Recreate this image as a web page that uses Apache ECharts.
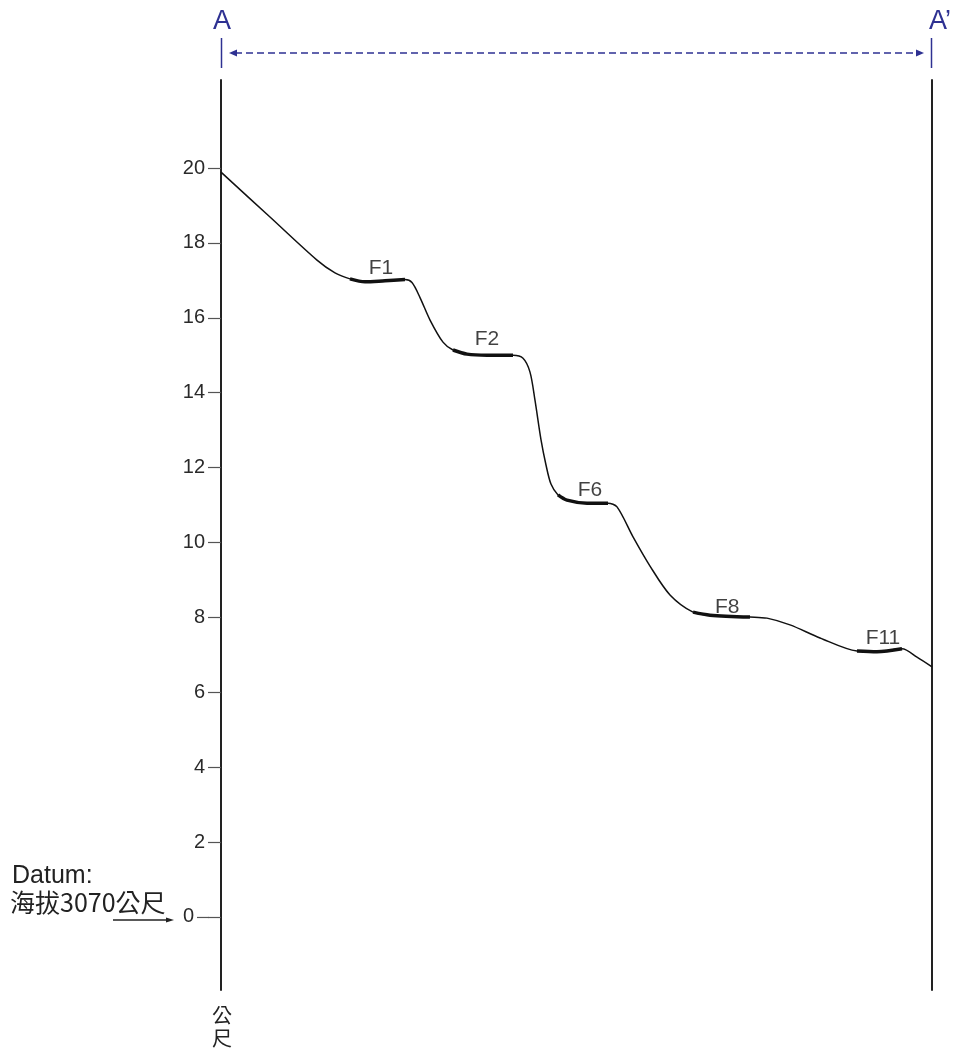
<!DOCTYPE html>
<html><head><meta charset="utf-8">
<script src="https://cdn.jsdelivr.net/npm/echarts@6/dist/echarts.min.js"></script>
<style>html,body{margin:0;padding:0;background:#fff}#c{width:956px;height:1051px}</style>
</head><body><div id="c"></div>
<script>
// Profile: horizontal distance (% of section A–A') and relative elevation (m above datum)
const profileX = [0.0, 6.89, 13.50, 16.03, 18.14, 20.25, 23.07, 25.88, 26.86, 27.99, 29.40, 31.22, 32.63, 34.60, 37.41, 41.07, 42.48, 43.46, 44.16, 45.01, 45.71, 46.41, 47.40, 48.66, 51.48, 54.43, 55.70, 57.95, 60.34, 63.15, 66.39, 68.78, 74.40, 76.79, 80.03, 84.25, 89.45, 92.26, 95.78, 97.89, 100.0];
const profileElev = [19.89, 18.69, 17.54, 17.20, 17.04, 16.96, 16.99, 17.02, 16.94, 16.54, 15.94, 15.35, 15.14, 15.03, 15.00, 15.00, 14.92, 14.55, 13.80, 12.74, 12.07, 11.56, 11.27, 11.13, 11.05, 11.05, 10.95, 10.15, 9.37, 8.60, 8.14, 8.06, 8.01, 7.98, 7.80, 7.45, 7.10, 7.08, 7.16, 6.94, 6.68];

// River terraces
const terraceNames = ['F1', 'F2', 'F6', 'F8', 'F11'];
const terraceStart = [17.4, 31.8, 47.3, 66.3, 89.4];
const terraceEnd = [26.6, 42.0, 54.5, 74.5, 95.9];
const terraceLabelX = [22.5, 37.4, 51.9, 71.2, 93.1];
const terraceLabelElev = [17.33, 15.43, 11.40, 8.28, 7.45];

const yTicks = [0, 2, 4, 6, 8, 10, 12, 14, 16, 18, 20];
const yMin = -1.95, yMax = 22.35;
const xMin = 0, xMax = 100;

const profile = profileX.map((x, i) => [x, profileElev[i]]);
const FONT = 'Arial, "Liberation Sans", sans-serif';
const CJK = '"Noto Sans CJK TC", "Noto Sans CJK SC", sans-serif';
const BLUE = '#2e3192';
const SMOOTH = 0.3;

const series = [{
  type: 'line', data: profile, showSymbol: false, smooth: SMOOTH,
  lineStyle: { color: '#111', width: 1.5 }, silent: true, z: 2
}];
terraceNames.forEach((n, k) => {
  series.push({
    type: 'line', showSymbol: false, smooth: SMOOTH, silent: true, z: 3,
    data: profile.filter(p => p[0] >= terraceStart[k] && p[0] <= terraceEnd[k]),
    lineStyle: { color: '#111', width: 3.5 }
  });
});
series.push({
  type: 'scatter', symbolSize: 0, silent: true, z: 4,
  data: terraceNames.map((n, k) => ({ value: [terraceLabelX[k], terraceLabelElev[k]], name: n })),
  label: { show: true, position: 'inside', formatter: p => p.name, color: '#111', fontSize: 21, fontFamily: FONT }
});

const chart = echarts.init(document.getElementById('c'), null, { renderer: 'canvas' });
chart.setOption({
  animation: false,
  backgroundColor: '#fff',
  grid: { left: 221, right: 24, top: 80, bottom: 61 },
  xAxis: { type: 'value', min: xMin, max: xMax, show: false },
  yAxis: [{
    type: 'value', min: yMin, max: yMax, position: 'left',
    splitLine: { show: false },
    axisLine: { show: true, lineStyle: { color: '#222', width: 2 } },
    axisTick: { show: true, customValues: yTicks, length: 13, lineStyle: { color: '#555', width: 1.2 } },
    axisLabel: {
      show: true, customValues: yTicks, margin: 16, color: '#2a2a2a', fontSize: 20, fontFamily: FONT,
      formatter: v => v === 0 ? '{z|0}' : String(v),
      rich: { z: { fontSize: 20, fontFamily: FONT, color: '#2a2a2a', padding: [0, 11, 0, 0] } }
    }
  }, {
    type: 'value', min: yMin, max: yMax, position: 'right',
    splitLine: { show: false },
    axisLine: { show: true, lineStyle: { color: '#222', width: 2 } },
    axisTick: { show: false }, axisLabel: { show: false }
  }],
  series: series
});

const [xl, y0] = chart.convertToPixel({ gridIndex: 0 }, [xMin, 0]);
const [xr] = chart.convertToPixel({ gridIndex: 0 }, [xMax, 0]);
const [, yBot] = chart.convertToPixel({ gridIndex: 0 }, [xMin, yMin]);
const ay = 53;
chart.setOption({
  graphic: [
    { type: 'text', x: xl + 1, y: 22, style: { text: 'A', fontSize: 27, fontFamily: FONT, fill: BLUE, align: 'center', verticalAlign: 'middle' } },
    { type: 'text', x: xr - 3, y: 22, style: { text: 'A\u2019', fontSize: 27, fontFamily: FONT, fill: BLUE, align: 'left', verticalAlign: 'middle' } },
    { type: 'line', shape: { x1: xl + 0.5, y1: 38, x2: xl + 0.5, y2: 68 }, style: { stroke: BLUE, lineWidth: 1.5 } },
    { type: 'line', shape: { x1: xr - 0.5, y1: 38, x2: xr - 0.5, y2: 68 }, style: { stroke: BLUE, lineWidth: 1.5 } },
    { type: 'line', shape: { x1: xl + 14, y1: ay, x2: xr - 14, y2: ay }, style: { stroke: BLUE, lineWidth: 1.5, lineDash: [7, 4] } },
    { type: 'polygon', shape: { points: [[xl + 8, ay], [xl + 16, ay - 3.5], [xl + 16, ay + 3.5]] }, style: { fill: BLUE } },
    { type: 'polygon', shape: { points: [[xr - 8, ay], [xr - 16, ay - 3.5], [xr - 16, ay + 3.5]] }, style: { fill: BLUE } },
    { type: 'line', shape: { x1: xl - 24, y1: y0 + 0.5, x2: xl - 12, y2: y0 + 0.5 }, style: { stroke: '#555', lineWidth: 1.2 } },
    { type: 'text', x: 12, y: y0 - 41, style: { text: 'Datum:', fontSize: 25, fontFamily: FONT, fill: '#222', verticalAlign: 'middle' } },
    { type: 'text', x: 10, y: y0 - 14, style: { text: '海拔3070公尺', fontSize: 25, fontFamily: CJK, fill: '#222', verticalAlign: 'middle' } },
    { type: 'line', shape: { x1: 113, y1: y0 + 3, x2: 168, y2: y0 + 3 }, style: { stroke: '#222', lineWidth: 1.3 } },
    { type: 'polygon', shape: { points: [[174, y0 + 3], [166, y0 + 0.5], [166, y0 + 5.5]] }, style: { fill: '#222' } },
    { type: 'text', x: xl + 1, y: yBot + 25, style: { text: '公', fontSize: 20, fontFamily: CJK, fill: '#222', align: 'center', verticalAlign: 'middle' } },
    { type: 'text', x: xl + 1, y: yBot + 48, style: { text: '尺', fontSize: 20, fontFamily: CJK, fill: '#222', align: 'center', verticalAlign: 'middle' } }
  ]
});
</script></body></html>
